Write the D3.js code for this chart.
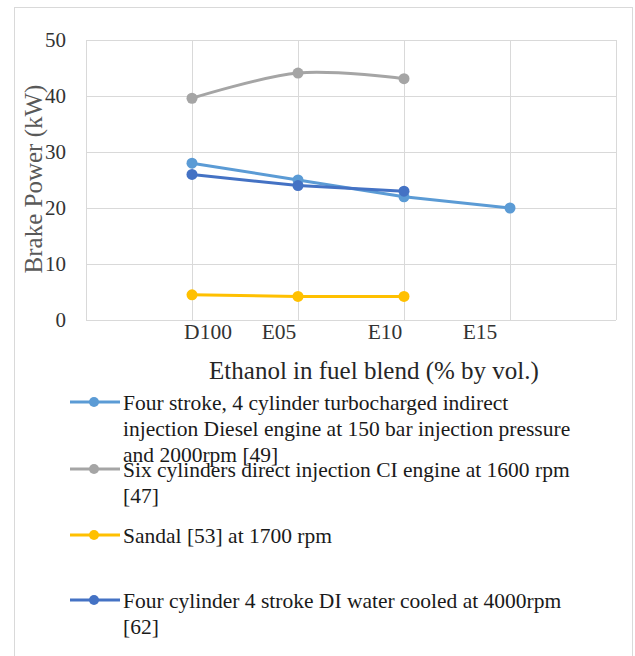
<!DOCTYPE html>
<html>
<head>
<meta charset="utf-8">
<script src="https://cdn.jsdelivr.net/npm/d3@7/dist/d3.min.js"></script>
<style>
  html, body { margin: 0; padding: 0; background: #fff; }
  svg { display: block; }
</style>
</head>
<body>
<svg id="chart" width="635" height="656"></svg>
<script>
// Blend categories along the x axis (index 1..4 on a 0..5 value axis)
const categories = ["D100", "E05", "E10", "E15"];
const categoryIndex = [1, 2, 3, 4];

// Brake power (kW) per engine study; null where a blend was not tested
const seriesNames = [
  ["Four stroke, 4 cylinder turbocharged indirect", "injection Diesel engine at 150 bar injection pressure", "and 2000rpm [49]"],
  ["Six cylinders direct injection CI engine at 1600 rpm", "[47]"],
  ["Sandal [53] at 1700 rpm"],
  ["Four cylinder 4 stroke DI water cooled at 4000rpm", "[62]"]
];
const fourStrokeTurbo = [28, 25, 22, 20];
const sixCylinderDI = [39.6, 44.1, 43.1, null];
const sandal = [4.5, 4.2, 4.2, null];
const fourCylinderWaterCooled = [26, 24, 23, null];

const yTicks = [0, 10, 20, 30, 40, 50];
const xGridValues = [1, 2, 3, 4];

const seriesValues = [fourStrokeTurbo, sixCylinderDI, sandal, fourCylinderWaterCooled];
const seriesColors = ["#5B9BD5", "#A5A5A5", "#FFC000", "#4472C4"];
const seriesSmooth = [false, true, false, false];

const SERIF = "'Times New Roman', 'Liberation Serif', 'DejaVu Serif', serif";

const svg = d3.select("#chart").attr("font-family", SERIF);

// Outer chart frame
svg.append("rect")
  .attr("x", 14.5).attr("y", 7.5)
  .attr("width", 618).attr("height", 680)
  .attr("fill", "#fff").attr("stroke", "#d9d9d9").attr("stroke-width", 1);

const plot = { left: 86, right: 616, top: 40, bottom: 320 };

const x = d3.scaleLinear().domain([0, 5]).range([plot.left, plot.right]);
const y = d3.scaleLinear().domain([0, 50]).range([plot.bottom, plot.top]);

// Gridlines
const grid = svg.append("g").attr("stroke", "#d9d9d9").attr("stroke-width", 1);
grid.selectAll("line.h").data(yTicks).join("line")
  .attr("x1", plot.left).attr("x2", plot.right)
  .attr("y1", d => Math.round(y(d)) + 0.5).attr("y2", d => Math.round(y(d)) + 0.5);
grid.selectAll("line.v").data([0].concat(xGridValues, [5])).join("line")
  .attr("y1", plot.top).attr("y2", plot.bottom)
  .attr("x1", d => Math.round(x(d)) + 0.5).attr("x2", d => Math.round(x(d)) + 0.5);

// Y axis tick labels
const yAxis = d3.axisLeft(y).tickValues(yTicks).tickSize(0).tickPadding(20);
svg.append("g")
  .attr("transform", `translate(${plot.left},0)`)
  .call(yAxis)
  .attr("font-family", SERIF)
  .attr("font-size", 21)
  .call(g => g.select(".domain").remove())
  .call(g => g.selectAll("text").attr("fill", "#333"));

// X axis category labels (slightly offset from their gridlines)
const xLabelNudge = [16, -19, -19, -30];
svg.append("g")
  .selectAll("text").data(categories).join("text")
  .attr("x", (d, i) => x(categoryIndex[i]) + xLabelNudge[i])
  .attr("y", 339)
  .attr("text-anchor", "middle")
  .attr("font-size", 21.5)
  .attr("fill", "#333")
  .text(d => d);

// Axis titles
svg.append("text")
  .attr("x", 374).attr("y", 379)
  .attr("text-anchor", "middle")
  .attr("font-size", 25)
  .attr("fill", "#262626")
  .text("Ethanol in fuel blend (% by vol.)");

svg.append("text")
  .attr("transform", "translate(42,179) rotate(-90)")
  .attr("text-anchor", "middle")
  .attr("font-size", 25)
  .attr("fill", "#595959")
  .text("Brake Power (kW)");

// Series lines and markers
const lineStraight = d3.line()
  .x(d => x(d.i)).y(d => y(d.v));
const lineSmooth = d3.line()
  .curve(d3.curveCatmullRom.alpha(0))
  .x(d => x(d.i)).y(d => y(d.v));

seriesValues.forEach((vals, s) => {
  const pts = vals.map((v, k) => ({ i: categoryIndex[k], v })).filter(p => p.v != null);
  const g = svg.append("g");
  g.append("path")
    .datum(pts)
    .attr("fill", "none")
    .attr("stroke", seriesColors[s])
    .attr("stroke-width", 3)
    .attr("stroke-linejoin", "round")
    .attr("d", seriesSmooth[s] ? lineSmooth : lineStraight);
  g.selectAll("circle").data(pts).join("circle")
    .attr("cx", d => x(d.i)).attr("cy", d => y(d.v))
    .attr("r", 5.5)
    .attr("fill", seriesColors[s]);
});

// Legend
const legendY = [402, 469, 535, 600];
const legend = svg.append("g");
seriesNames.forEach((lines, s) => {
  const g = legend.append("g");
  g.append("line")
    .attr("x1", 70).attr("x2", 120)
    .attr("y1", legendY[s]).attr("y2", legendY[s])
    .attr("stroke", seriesColors[s]).attr("stroke-width", 3);
  g.append("circle")
    .attr("cx", 94).attr("cy", legendY[s]).attr("r", 5)
    .attr("fill", seriesColors[s]);
  const t = g.append("text")
    .attr("x", 123).attr("y", legendY[s] + 8)
    .attr("font-size", 21.5)
    .attr("fill", "#1a1a1a");
  lines.forEach((ln, k) => {
    t.append("tspan").attr("x", 123).attr("dy", k === 0 ? 0 : 26).text(ln);
  });
});
</script>
</body>
</html>
